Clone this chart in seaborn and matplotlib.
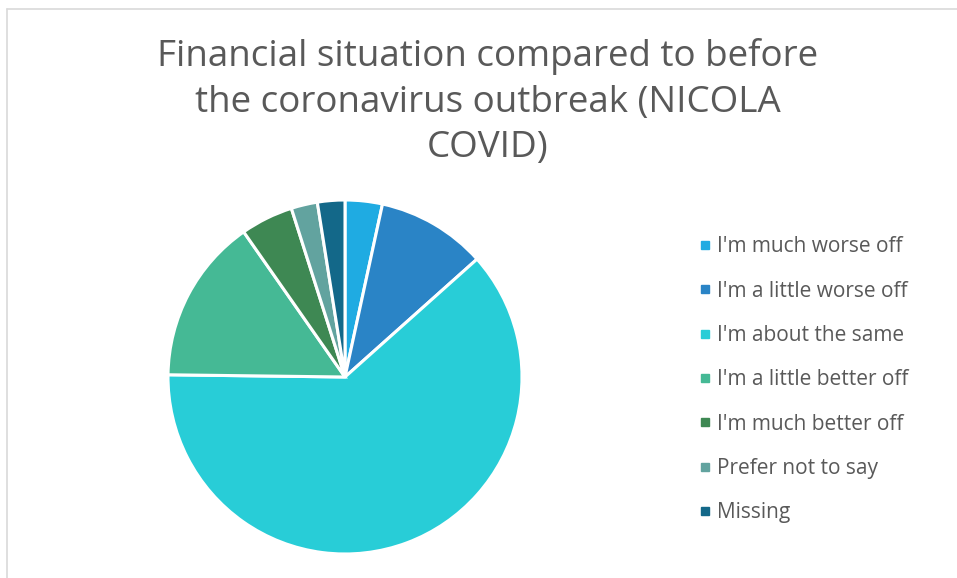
import matplotlib
matplotlib.use("Agg")
import matplotlib.pyplot as plt
from matplotlib.lines import Line2D
import seaborn as sns

categories = [
    "I'm much worse off",
    "I'm a little worse off",
    "I'm about the same",
    "I'm a little better off",
    "I'm much better off",
    "Prefer not to say",
    "Missing",
]
shares = [3.4, 10.0, 61.8, 15.1, 4.8, 2.4, 2.5]
colors = ["#1FABE2", "#2A84C6", "#28CDD7", "#45B995", "#3E8853", "#62A39F", "#136889"]
title_text = "Financial situation compared to before\nthe coronavirus outbreak (NICOLA\nCOVID)"

sns.set_theme(style="white")
palette = sns.color_palette(colors)
plt.rcParams["font.family"] = ["Open Sans", "DejaVu Sans"]

W, H = 957, 578
fig = plt.figure(figsize=(W / 100, H / 100), dpi=100)
fig.patch.set_facecolor("white")

# chart frame (top and left edges)
frame_kw = dict(color="#D9D9D9", linewidth=1.2, transform=fig.transFigure)
fig.add_artist(Line2D([7 / W, 1.0], [1 - 9 / H, 1 - 9 / H], **frame_kw))
fig.add_artist(Line2D([7 / W, 7 / W], [0, 1 - 9 / H], **frame_kw))

# pie
cx, cy, r = 345, 377, 177
ax = fig.add_axes([(cx - r) / W, (H - cy - r) / H, 2 * r / W, 2 * r / H])
ax.pie(
    shares,
    colors=palette,
    startangle=90,
    counterclock=False,
    radius=1.0,
    wedgeprops=dict(edgecolor="white", linewidth=2.2),
)
ax.set_xlim(-1.0, 1.0)
ax.set_ylim(-1.0, 1.0)
ax.set_aspect("equal")
ax.axis("off")

# title
fig.text(488 / W, 1 - 102 / H, title_text, ha="center", va="center",
         fontsize=26.5, color="#595959", linespacing=1.34)

# legend
handles = [Line2D([0], [0], marker="s", linestyle="none", markersize=6,
                  markerfacecolor=c, markeredgecolor=c) for c in colors]
fig.legend(handles, categories, loc="upper left",
           bbox_to_anchor=(691 / W, 1 - 228 / H), frameon=False,
           fontsize=15, labelcolor="#595959", handlelength=0.5,
           handletextpad=0.35, labelspacing=1.12, borderaxespad=0)

fig.savefig("out.png", dpi=100, facecolor="white")
